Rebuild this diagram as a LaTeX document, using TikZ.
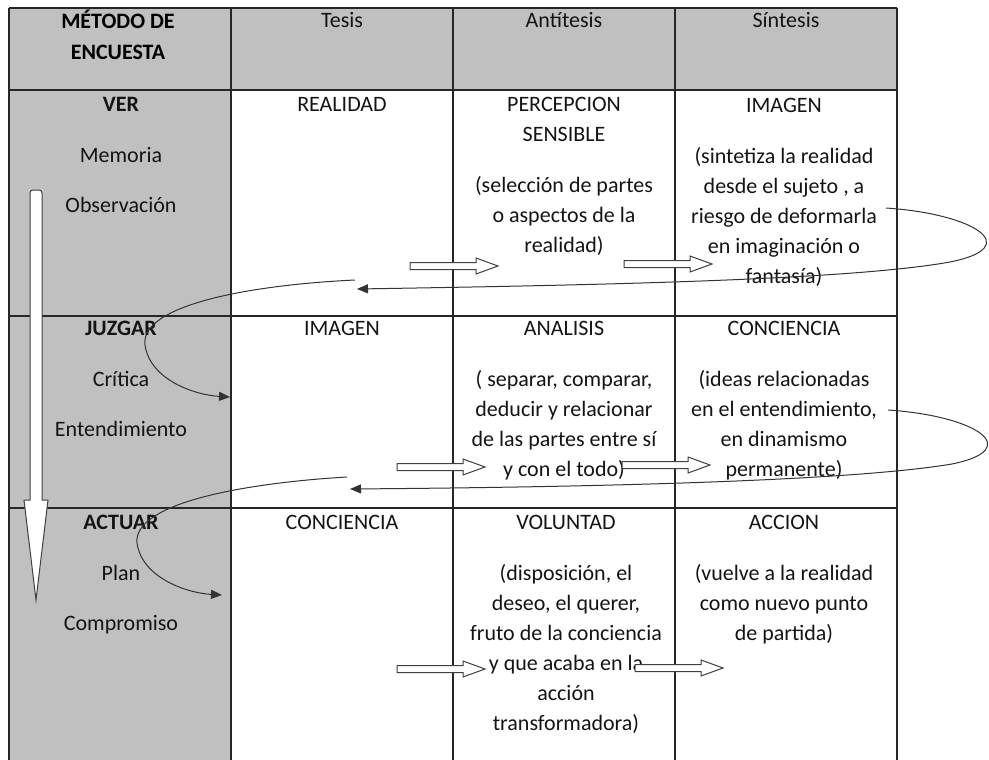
\documentclass[tikz,border=0pt]{standalone}
\usepackage{fontspec}
\setmainfont{Carlito}
\usetikzlibrary{arrows.meta}
\definecolor{cellgray}{HTML}{C0C0C0}
\tikzset{
  celltxt/.style={font=\fontsize{22}{30}\selectfont, align=center, inner sep=0pt, anchor=base, text=black!92},
  title/.style={celltxt, font=\fontsize{22}{30}\selectfont\bfseries, text=black},
  rule/.style={line width=1.3pt, draw=black!85},
  blockarrow/.style={draw=black!75, fill=white, line width=1pt},
  loopline/.style={line width=1pt, draw=black!80, -{Triangle[length=11pt,width=9pt]}},
}
\begin{document}
\begin{tikzpicture}[x=1pt, y=-1pt]
  \useasboundingbox (0,0) rectangle (989,760);

  % grey header row and first column
  \fill[cellgray] (9,8) rectangle (897,90);
  \fill[cellgray] (9,90) rectangle (231,760);

  % table rules
  \foreach \y in {8,90,316,508}
    \draw[rule] (9,\y) -- (897,\y);
  \foreach \x in {9,231,453,675,897}
    \draw[rule] (\x,8) -- (\x,760);

  % header (multi-line nodes sit on their last baseline)
  \node[title] (metodo) at (118,60) {MÉTODO DE\\[2pt]ENCUESTA};
  \node[celltxt] (tesis) at (342,28) {Tesis};
  \node[celltxt] (antitesis) at (564,28) {Antítesis};
  \node[celltxt] (sintesis) at (786,28) {Síntesis};

  % ver
  \node[celltxt] (ver) at (121,212) {\textbf{VER}\\[21pt]Memoria\\[20pt]Observación};
  \node[celltxt] (realidad) at (342,111) {REALIDAD};
  \node[celltxt] (percepcion) at (564,252) {PERCEPCION\\SENSIBLE\\[21pt](selección de partes\\o aspectos de la\\realidad)};
  \node[celltxt] (imagen) at (784,283) {IMAGEN\\[21pt](sintetiza la realidad\\desde el sujeto , a\\riesgo de deformarla\\en imaginación o\\fantasía)};

  % juzgar
  \node[celltxt] (juzgar) at (121,436) {\textbf{JUZGAR}\\[21pt]Crítica\\[20pt]Entendimiento};
  \node[celltxt] (imagenb) at (342,335) {IMAGEN};
  \node[celltxt] (analisis) at (564,476) {ANALISIS\\[21pt]( separar, comparar,\\deducir y relacionar\\de las partes entre sí\\y con el todo)};
  \node[celltxt] (conciencia) at (784,476) {CONCIENCIA\\[21pt](ideas relacionadas\\en el entendimiento,\\en dinamismo\\permanente)};

  % actuar
  \node[celltxt] (actuar) at (121,630) {\textbf{ACTUAR}\\[21pt]Plan\\[20pt]Compromiso};
  \node[celltxt] (concienciab) at (342,529) {CONCIENCIA};
  \node[celltxt] (voluntad) at (566,730) {VOLUNTAD\\[21pt](disposición, el\\deseo, el querer,\\fruto de la conciencia\\y que acaba en la\\acción\\transformadora)};
  \node[celltxt] (accion) at (784,640) {ACCION\\[21pt](vuelve a la realidad\\como nuevo punto\\de partida)};

  % big arrow down the first column
  \draw[blockarrow] (30,500) [rounded corners=3pt] -- (30,190) -- (42,190) [sharp corners] -- (42,500)
    -- (48,500) -- (36,600) -- (24,500) -- cycle;

  % small hollow arrows
  \foreach \x/\y in {410/266, 624/264, 397/467, 622/465, 397/669, 635/668}
    \draw[blockarrow] (\x,\y-3.5) -- (\x+66,\y-3.5) -- (\x+66,\y-8) -- (\x+88,\y)
      -- (\x+66,\y+8) -- (\x+66,\y+3.5) -- (\x,\y+3.5) -- cycle;

  % loops back to the next row
  \coordinate (verout) at (886,208);
  \coordinate (verback) at (357,289);
  \coordinate (juzgarin) at (355,280);
  \coordinate (juzgartip) at (230,397);
  \coordinate (juzgarout) at (888,410);
  \coordinate (juzgarback) at (350,489);
  \coordinate (actuarin) at (347,477);
  \coordinate (actuartip) at (222,595);

  \draw[loopline] (verout) .. controls (975,214) and (1025,247) .. (950,262)
    .. controls (850,280) and (600,285) .. (verback);
  \draw[loopline] (juzgarin) .. controls (250,285) and (140,305) .. (145,345)
    .. controls (150,380) and (195,395) .. (juzgartip);
  \draw[loopline] (juzgarout) .. controls (977,416) and (1025,449) .. (952,464)
    .. controls (850,481) and (600,487) .. (juzgarback);
  \draw[loopline] (actuarin) .. controls (245,483) and (133,503) .. (137,543)
    .. controls (142,578) and (187,593) .. (actuartip);
\end{tikzpicture}
\end{document}
